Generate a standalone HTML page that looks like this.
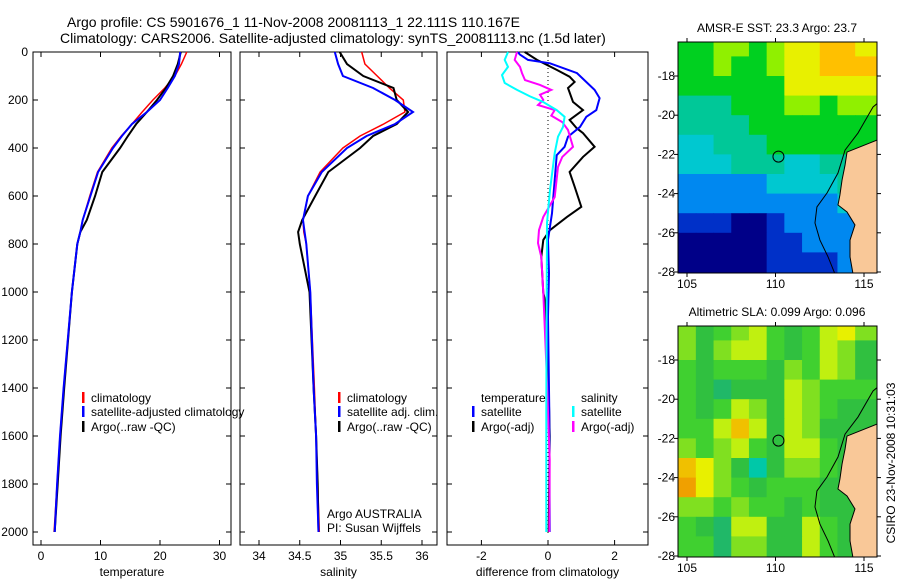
<!DOCTYPE html>
<html><head><meta charset="utf-8">
<style>
html,body{margin:0;padding:0;background:#fff;}
svg{display:block;font-family:"Liberation Sans",sans-serif;}
text{fill:#000;}
</style></head>
<body>
<svg id="fig" width="900" height="580" viewBox="0 0 900 580" xmlns="http://www.w3.org/2000/svg">
<rect width="900" height="580" fill="#fff"/>
<text x="67" y="27" font-size="14">Argo profile: CS 5901676_1 11-Nov-2008 20081113_1 22.111S 110.167E</text>
<text x="60" y="43" font-size="14">Climatology: CARS2006. Satellite-adjusted climatology: synTS_20081113.nc (1.5d later)</text>
<g id="p1"></g>
<g id="p2"></g>
<g id="p3"></g>
<g id="m1"></g>
<g id="m2"></g>
<text transform="translate(895,463) rotate(-90)" text-anchor="middle" font-size="12">CSIRO 23-Nov-2008 10:31:03</text>
</svg>
<script>
// ---- profile data ----
const depthTicks=[0,200,400,600,800,1000,1200,1400,1600,1800,2000];
const tempTicks=[0,10,20,30];
const salTicks=[34,34.5,35,35.5,36];
const diffTicks=[-2,0,2];
const profDepth=[0,50,100,150,200,250,300,350,400,500,600,700,750,800,1000,1400,1600,1800,2000];
const tempClim=[24.5,23.6,22.5,20.8,18.8,17.0,15.3,13.5,11.9,9.5,8.2,7.0,6.6,6.1,5.2,3.8,3.2,2.7,2.2];
const tempSat=[23.4,23.2,22.5,21.3,20.0,17.8,15.3,13.6,12.1,9.6,8.3,7.0,6.6,6.1,5.2,3.8,3.2,2.7,2.3];
const tempArgo=[23.5,23.0,22.2,21.0,19.5,17.8,16.0,14.6,13.3,10.3,9.1,7.7,6.6,6.1,5.2,3.9,3.3,2.8,2.3];
const salClim=[35.26,35.3,35.45,35.6,35.77,35.79,35.53,35.24,35.03,34.75,34.6,34.54,34.55,34.58,34.63,34.68,34.7,34.72,34.74];
const salSat=[34.93,34.97,35.03,35.4,35.67,35.89,35.67,35.32,35.08,34.77,34.6,34.54,34.56,34.58,34.63,34.67,34.7,34.71,34.73];
const salArgo=[34.99,35.08,35.28,35.65,35.69,35.83,35.69,35.4,35.24,34.85,34.69,34.53,34.48,34.5,34.62,34.67,34.7,34.72,34.73];
const dTsatDepth=[0,10,33,47,88,158,192,242,270,312,353,395,430,533,672,783,922,1103,1500,2000];
const dTsat=[-0.9,-0.85,-0.6,0.06,0.87,1.4,1.55,1.45,1.15,0.96,0.6,0.5,0.26,0.2,0.12,0,0.03,0,0.04,0.05];
const dTargoDepth=[0,33,75,103,125,150,208,242,283,317,338,395,437,500,561,645,687,742,783,854,1004,1033,1300,1600,2000];
const dTargo=[-0.7,-0.33,0.27,0.65,0.8,0.6,0.75,1.05,0.65,0.86,1.05,1.4,1.05,0.65,0.8,1.0,0.57,0.06,-0.14,-0.2,-0.14,-0.09,0,0.05,0.02];
const dSsatDepth=[0,33,62,96,129,158,185,208,242,270,312,353,421,575,712,1000,1500,2000];
const dSsat=[-1.2,-1.3,-1.2,-1.38,-1.3,-0.93,-0.54,-0.15,0.26,0.5,0.45,0.3,0.2,0.06,-0.03,-0.04,-0.05,-0.05];
const dSargoDepth=[0,33,62,88,117,137,158,178,200,221,242,265,292,325,395,437,479,604,687,742,796,854,1004,1300,1700,2000];
const dSargo=[-0.93,-1.0,-0.84,-0.78,-0.69,-0.24,0.1,-0.24,-0.14,-0.3,0.2,0.1,0.43,0.6,0.75,0.43,0.3,0.2,-0.14,-0.27,-0.3,-0.2,-0.14,-0.05,0.05,0.04];
// ---- map data (1-degree grid, lon 105..115, lat 16.5..27.5), colour-class values ----
const mapLons=[105,106,107,108,109,110,111,112,113,114,115];
const mapLats=[16.5,17.5,18.5,19.5,20.5,21.5,22.5,23.5,24.5,25.5,26.5,27.5];
const sstGrid=[
[5,5,6,6,5,6,7,7,8,8,7],[5,5,6,5,5,6,7,7,8,8,8],[5,5,5,5,5,5,7,7,7,7,7],[4,4,4,5,5,5,6,6,5,6,6],
[4,4,4,4,5,5,5,5,5,5,5],[3,3,4,4,4,5,5,5,5,5,5],[3,3,3,4,4,4,3,3,4,4,4],[2,2,2,2,2,3,3,3,3,4,4],
[2,2,2,2,2,2,2,2,2,3,3],[1,1,1,0,0,1,2,2,2,2,2],[0,0,0,0,0,1,1,2,2,2,2],[0,0,0,0,0,1,1,1,1,2,2]];
const slaGrid=[
[4,2,3,4,5,3,2,3,5,6,4],[4,2,4,5,5,3,2,3,5,4,2],[3,2,3,3,3,2,4,3,5,4,2],[3,2,1,2,2,2,5,4,3,3,3],
[3,2,3,5,4,2,5,4,3,2,2],[3,3,5,7,5,2,5,4,2,2,2],[4,3,4,5,3,2,5,5,3,2,2],[7,6,4,2,0,2,4,4,3,2,2],
[8,6,4,3,2,3,3,3,2,2,2],[4,4,3,4,3,3,2,3,2,2,2],[3,2,1,5,5,2,2,5,3,2,2],[3,3,1,4,4,2,2,5,3,2,2]];
const coastLon=[115.8,115.73,114.04,113.93,113.76,113.64,113.53,114.04,114.49,114.21,114.21,114.38,115.8];
const coastLat=[21.27,21.27,21.88,22.54,23.31,24.07,24.58,24.94,25.6,26.37,27.23,28.1,28.1];
const isoLon=[115.75,115.51,114.66,113.93,113.53,112.91,112.34,112.23,112.51,112.97,113.36];
const isoLat=[19.4,19.58,20.91,21.78,22.95,23.97,24.68,25.5,26.37,27.23,28.1];
const argoLon=110.167, argoLat=22.111;
const latTicks=[18,20,22,24,26,28];
const lonTicks=[105,110,115];

const NS='http://www.w3.org/2000/svg';
function mk(parent,tag,attrs){const e=document.createElementNS(NS,tag);for(const k in attrs)e.setAttribute(k,attrs[k]);parent.appendChild(e);return e;}
function txt(parent,x,y,s,anchor,size){const t=mk(parent,'text',{x:x,y:y,'font-size':size||12,'text-anchor':anchor||'start'});t.textContent=s;return t;}

const PT=52,PB=545;
const yD=d=>52+d*0.24;
function panel(g,x0,x1,xfun,ticks,label,showY){
  const b=mk(g,'rect',{x:x0,y:PT,width:x1-x0,height:PB-PT,fill:'none',stroke:'#000','stroke-width':1});
  
  depthTicks.forEach(d=>{const y=yD(d);
    mk(g,'line',{x1:x0,x2:x0+5,y1:y,y2:y,stroke:'#000'});mk(g,'line',{x1:x1,x2:x1-5,y1:y,y2:y,stroke:'#000'});
    if(showY){const t=txt(g,28,y+4,String(d),'end');}});
  ticks.forEach(v=>{const x=xfun(v);
    mk(g,'line',{x1:x,x2:x,y1:PB,y2:PB-5,stroke:'#000'});mk(g,'line',{x1:x,x2:x,y1:PT,y2:PT+5,stroke:'#000'});
    const t=txt(g,x,560,String(v),'middle');});
  const l=txt(g,(x0+x1)/2,576,label,'middle');
}
function line(g,xs,ds,xfun,color,name,w){
  const pts=xs.map((v,i)=>xfun(v).toFixed(1)+','+yD(ds[i]).toFixed(1)).join(' ');
  const p=mk(g,'polyline',{points:pts,fill:'none',stroke:color,'stroke-width':w||2});
  
}
function legend(g,x,y,color,s,name){
  mk(g,'rect',{x:x,y:y-10,width:2.5,height:11,fill:color});
  const t=txt(g,x+9,y,s);
}
// panel 1
const p1=document.getElementById('p1');
const xT=v=>41+v*5.95;
panel(p1,33,231,xT,tempTicks,'temperature',true);
line(p1,tempClim,profDepth,xT,'#f00','temp-climatology-line',1.5);
line(p1,tempArgo,profDepth,xT,'#000','temp-argo-line',2);
line(p1,tempSat,profDepth,xT,'#00f','temp-satellite-line',2);
legend(p1,82,402,'#f00','climatology','legend-climatology');
legend(p1,82,416,'#00f','satellite-adjusted climatology','legend-satellite');
legend(p1,82,431,'#000','Argo(..raw -QC)','legend-argo');
// panel 2
const p2=document.getElementById('p2');
const xS=v=>259+(v-34)*81.5;
panel(p2,240,437,xS,salTicks,'salinity',false);
line(p2,salClim,profDepth,xS,'#f00','sal-climatology-line',1.5);
line(p2,salArgo,profDepth,xS,'#000','sal-argo-line',2);
line(p2,salSat,profDepth,xS,'#00f','sal-satellite-line',2);
legend(p2,338,402,'#f00','climatology','legend-sal-climatology');
legend(p2,338,416,'#00f','satellite adj. clim.','legend-sal-satellite');
legend(p2,338,431,'#000','Argo(..raw -QC)','legend-sal-argo');
let t=txt(p2,327,518,'Argo AUSTRALIA');
t=txt(p2,327,532,'PI: Susan Wijffels');
// panel 3
const p3=document.getElementById('p3');
const xDf=v=>548+v*33.3;
panel(p3,447,648,xDf,diffTicks,'difference from climatology',false);
mk(p3,'line',{x1:548,x2:548,y1:PT,y2:PB-10,stroke:'#000','stroke-dasharray':'1,3'});
line(p3,dTargo,dTargoDepth,xDf,'#000','dtemp-argo-line',2);
line(p3,dTsat,dTsatDepth,xDf,'#00f','dtemp-satellite-line',2);
line(p3,dSargo,dSargoDepth,xDf,'#f0f','dsal-argo-line',2);
line(p3,dSsat,dSsatDepth,xDf,'#0ff','dsal-satellite-line',2);
t=txt(p3,481,402,'temperature');
t=txt(p3,581,402,'salinity');
legend(p3,472,416,'#00f','satellite','legend-dtemp-satellite');
legend(p3,472,431,'#000','Argo(-adj)','legend-dtemp-argo');
legend(p3,572,416,'#0ff','satellite','legend-dsal-satellite');
legend(p3,572,431,'#f0f','Argo(-adj)','legend-dsal-argo');

// maps
const sstCols=['#000088','#0030c8','#0088f0','#00c8d0','#00c898','#00d020','#90f000','#e8f000','#ffc000'];
const slaCols=['#00c8a8','#20b868','#30c040','#40d030','#80e020','#c0f010','#e8f000','#f0c000','#f0a000'];
function drawMap(id,top,grid,cols,title){
  const g=document.getElementById(id);
  const X0=678,X1=877,Y0=top,Y1=top+231;
  const xL=lon=>687+(lon-105)*17.7;
  const yL=lat=>Y0+34+(lat-18)*19.6;
  const tt=txt(g,777,top-10,title,'middle');
  const cp=mk(g,'clipPath',{id:'c'+id});mk(cp,'rect',{x:X0,y:Y0,width:X1-X0,height:Y1-Y0});
  const inner=mk(g,'g',{'clip-path':'url(#c'+id+')'});
  grid.forEach((row,r)=>row.forEach((v,c)=>{
    const lon=mapLons[c],lat=mapLats[r];
    let xa=xL(lon-0.5),xb=xL(lon+0.5)+0.5,ya=yL(lat-0.5),yb=yL(lat+0.5)+0.5;
    if(c===0)xa=X0-2; if(c===row.length-1)xb=X1+2;
    if(r===0)ya=Y0-2; if(r===grid.length-1)yb=Y1+2;
    const rc=mk(inner,'rect',{x:xa,y:ya,width:xb-xa,height:yb-ya,fill:cols[v]});
    
    
  }));
  const land=mk(inner,'polygon',{points:coastLon.map((v,i)=>xL(v)+','+yL(coastLat[i])).join(' '),fill:'#f9c898',stroke:'#000','stroke-width':1});
  
  const iso=mk(inner,'polyline',{points:isoLon.map((v,i)=>xL(v)+','+yL(isoLat[i])).join(' '),fill:'none',stroke:'#000','stroke-width':1});
  
  const ci=mk(g,'circle',{cx:xL(argoLon),cy:yL(argoLat),r:5.5,fill:'none',stroke:'#000','stroke-width':1});
  
  mk(g,'rect',{x:X0,y:Y0,width:X1-X0,height:Y1-Y0,fill:'none',stroke:'#000'});
  latTicks.forEach(l=>{const y=yL(l);mk(g,'line',{x1:X0,x2:X0-4,y1:y,y2:y,stroke:'#000'});mk(g,'line',{x1:X1,x2:X1+4,y1:y,y2:y,stroke:'#000'});
    const a=txt(g,675,y+4,'-'+l,'end');});
  lonTicks.forEach(l=>{const x=xL(l);mk(g,'line',{x1:x,x2:x,y1:Y1,y2:Y1+4,stroke:'#000'});mk(g,'line',{x1:x,x2:x,y1:Y0,y2:Y0-4,stroke:'#000'});
    const a=txt(g,x,Y1+15,String(l),'middle');});
}
drawMap('m1',42,sstGrid,sstCols,'AMSR-E SST: 23.3 Argo: 23.7');
drawMap('m2',326,slaGrid,slaCols,'Altimetric SLA: 0.099 Argo: 0.096');
</script>
</body></html>
